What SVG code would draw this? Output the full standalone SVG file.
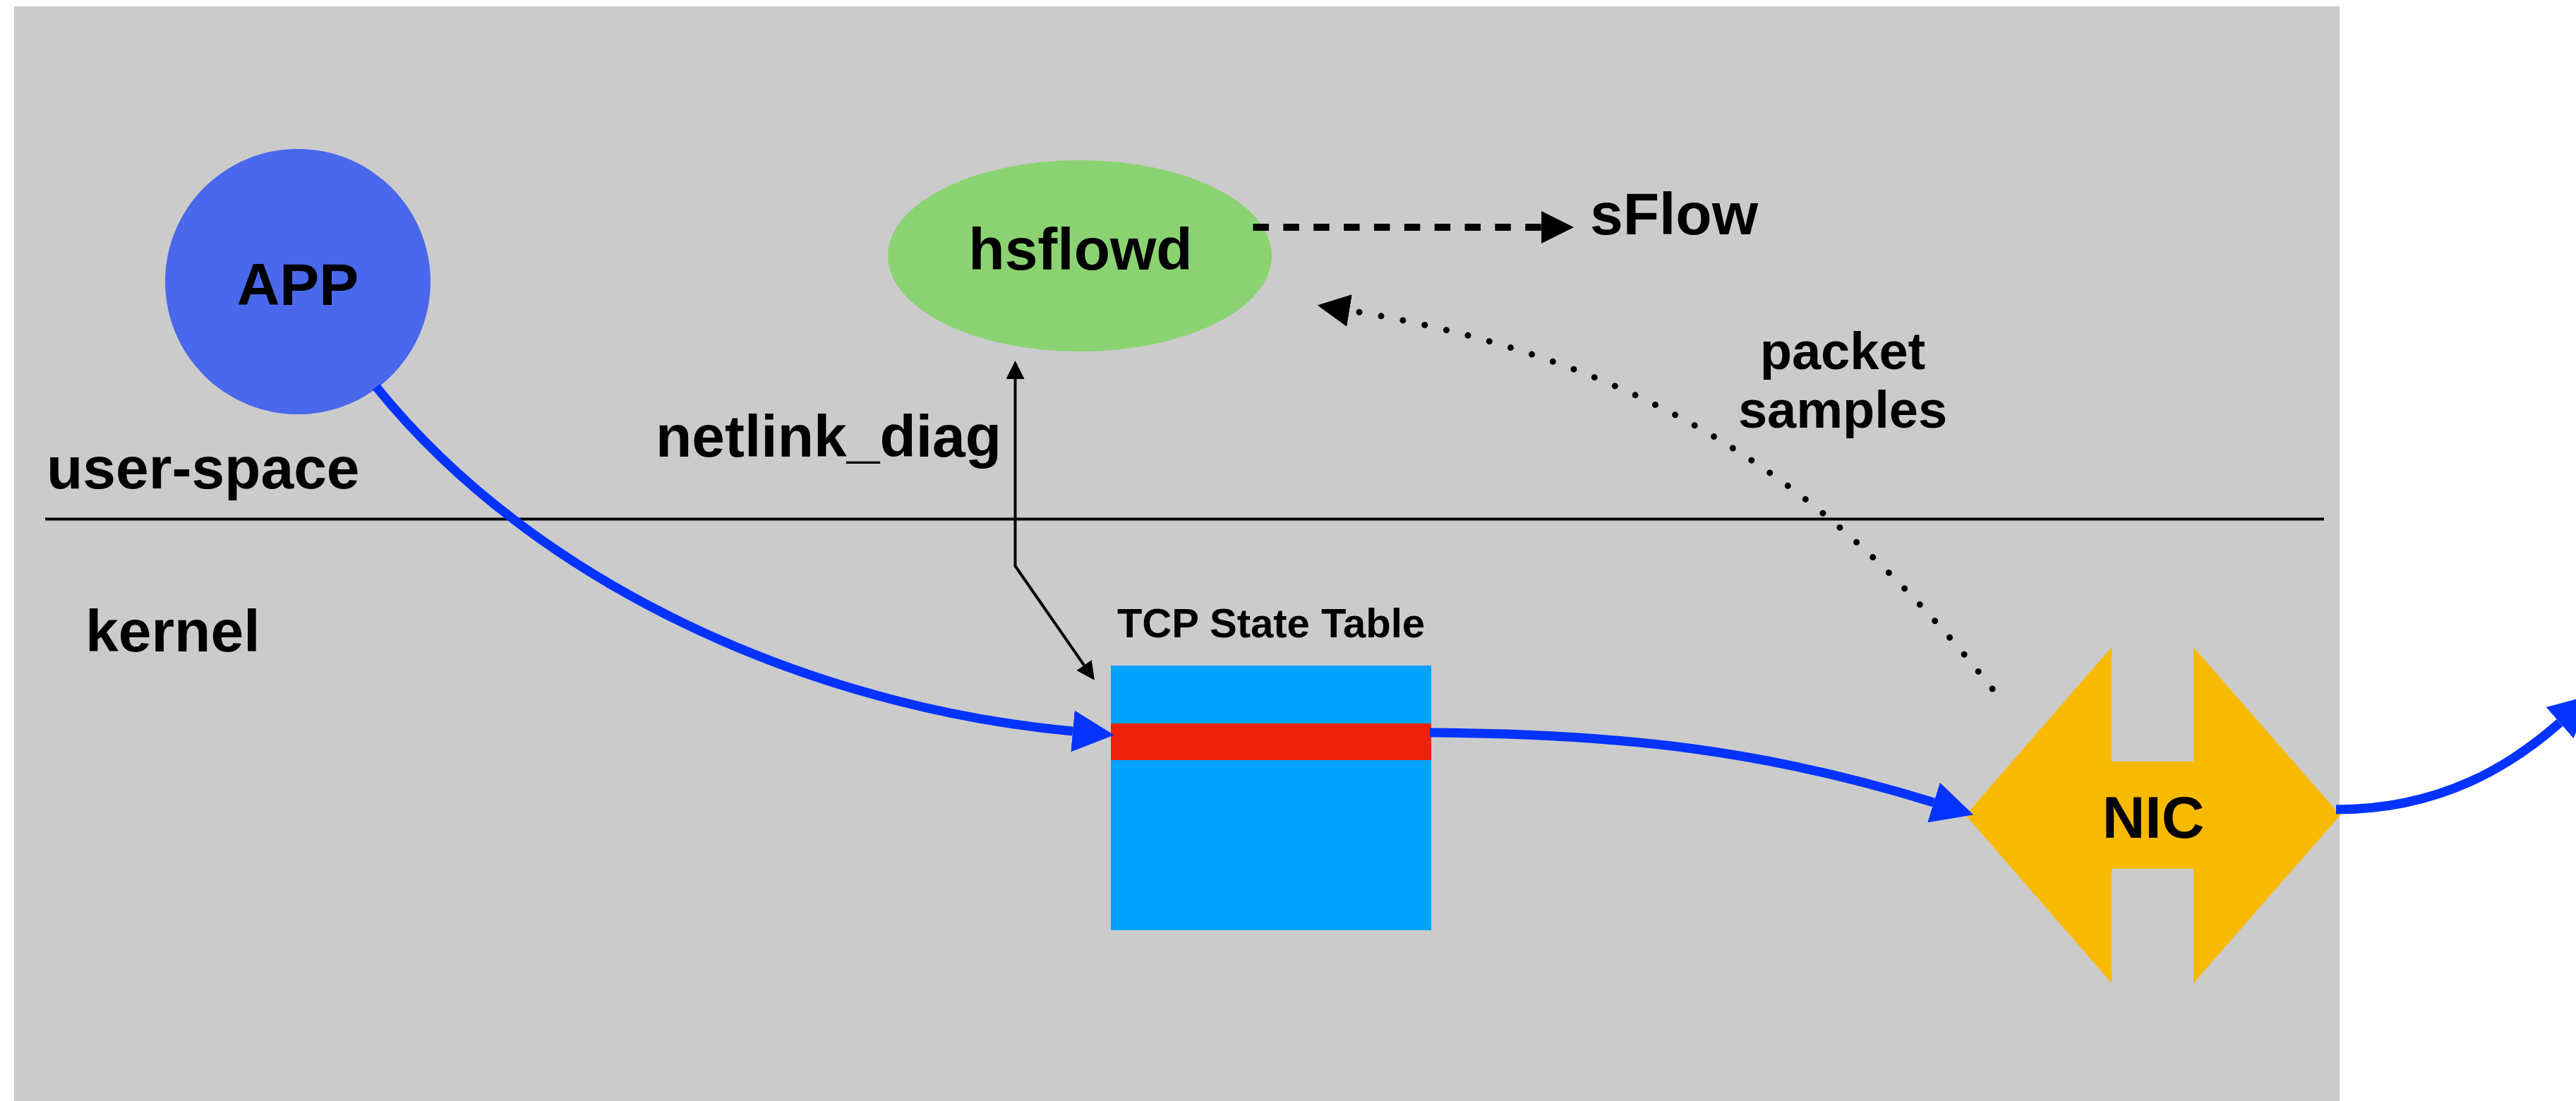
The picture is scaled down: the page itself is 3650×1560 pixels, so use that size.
<svg xmlns="http://www.w3.org/2000/svg" width="3650" height="1560" viewBox="0 0 3650 1560">
  <style>
    .t { font-family: "Liberation Sans", Arial, Helvetica, sans-serif; font-weight: bold; fill: #000; }
    .big { font-size: 84px; }
    .mid { font-size: 74px; }
    .small { font-size: 58px; }
    .flow { fill: none; stroke: #0433FF; stroke-width: 13; }
    .thin { fill: none; stroke: #000; stroke-width: 4; }
  </style>
  <defs>
    <marker id="blueHead" markerUnits="userSpaceOnUse" markerWidth="60" markerHeight="60" refX="0" refY="27.5" viewBox="0 0 56 55" orient="auto">
      <path d="M0,0 L55,27.5 L0,55 z" fill="#0433FF"/>
    </marker>
    <marker id="blackHead" markerUnits="userSpaceOnUse" markerWidth="46" markerHeight="46" refX="0" refY="22" viewBox="0 0 44 44" orient="auto">
      <path d="M0,0 L44,22 L0,44 z" fill="#000"/>
    </marker>
    <marker id="thinHead" markerUnits="userSpaceOnUse" markerWidth="26" markerHeight="26" refX="0" refY="12.5" viewBox="0 0 25 25" orient="auto-start-reverse">
      <path d="M0,0 L25,12.5 L0,25 z" fill="#000"/>
    </marker>
  </defs>

  <rect id="background" x="20" y="9" width="3295" height="1551" fill="#CBCBCB"/>
  <line id="divider" x1="64" y1="735.5" x2="3293" y2="735.5" stroke="#000" stroke-width="4"/>
  <text class="t big" x="66" y="692">user-space</text>
  <text class="t big" x="121" y="923">kernel</text>

  <g id="app">
    <circle cx="422" cy="399" r="188" fill="#4A68EC"/>
    <text class="t big" x="422" y="432" text-anchor="middle">APP</text>
  </g>

  <g id="hsflowd">
    <ellipse cx="1530" cy="362.5" rx="272" ry="135.5" fill="#8BD372"/>
    <text class="t big" x="1531" y="382" text-anchor="middle">hsflowd</text>
  </g>

  <g id="sflow">
    <text class="t big" x="2253" y="332">sFlow</text>
  </g>

  <g id="tcp-state-table">
    <text class="t small" x="1801" y="903" text-anchor="middle">TCP State Table</text>
    <rect x="1574" y="943" width="454" height="375" fill="#02A2FF"/>
    <rect x="1574" y="1025" width="454" height="52" fill="#EE220C"/>
  </g>

  <g id="nic">
    <polygon points="2785,1155 2992,917 2992,1079 3108,1079 3108,917 3316,1155 3108,1393 3108,1231 2992,1231 2992,1393" fill="#F8BA00"/>
    <text class="t big" x="3051" y="1187" text-anchor="middle">NIC</text>
  </g>

  <g id="connectors">
    <path class="flow" d="M533,548 C760,830 1150,1002 1520,1036" marker-end="url(#blueHead)"/>
    <path class="flow" d="M2026,1038 C2300,1040 2501,1063 2740,1137" marker-end="url(#blueHead)"/>
    <path class="flow" d="M3310,1147 C3460,1147 3559.5,1083.4 3627,1024" marker-end="url(#blueHead)"/>
    <path d="M1775.5,322 L2184,322" fill="none" stroke="#000" stroke-width="10" stroke-dasharray="22.4 20.46" marker-end="url(#blackHead)"/>
    <path d="M2823,976 C2606,703 2353,512 1912,440" fill="none" stroke="#000" stroke-width="9" stroke-linecap="round" stroke-dasharray="0 31.5" marker-end="url(#blackHead)"/>
    <path class="thin" d="M1438.5,537 L1438.5,802 L1536,942.5" marker-start="url(#thinHead)" marker-end="url(#thinHead)"/>
    <text class="t big" x="929" y="647">netlink_diag</text>
    <text class="t mid" x="2611" y="523" text-anchor="middle">packet</text>
    <text class="t mid" x="2611" y="606" text-anchor="middle">samples</text>
  </g>
</svg>
